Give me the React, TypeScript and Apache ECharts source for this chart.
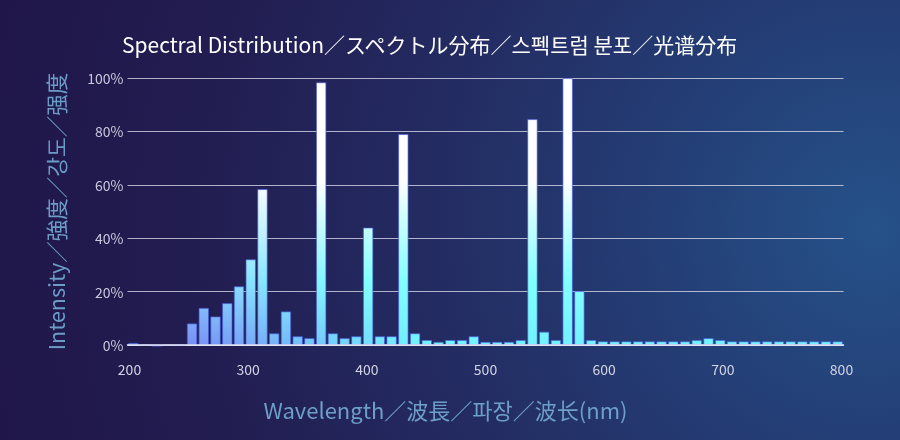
import React, { useEffect, useRef } from "react";
import * as echarts from "echarts";

// Wavelength bins (nm)
const wavelengths = [
  "200", "210", "220", "230", "240", "250", "260", "270", "280", "290",
  "300", "310", "320", "330", "340", "350", "360", "370", "380", "390",
  "400", "410", "420", "430", "440", "450", "460", "470", "480", "490",
  "500", "510", "520", "530", "540", "550", "560", "570", "580", "590",
  "600", "610", "620", "630", "640", "650", "660", "670", "680", "690",
  "700", "710", "720", "730", "740", "750", "760", "770", "780", "790",
  "800",
];

// Relative intensity (%)
const intensity = [
  0.8, 0, -0.6, 0, 0, 8.1, 13.9, 10.7, 15.7, 22.0,
  32.1, 58.4, 4.4, 12.6, 3.3, 2.6, 98.4, 4.4, 2.6, 3.3,
  44.0, 3.3, 3.3, 79.0, 4.4, 1.9, 1.2, 1.9, 1.9, 3.3,
  1.2, 1.2, 1.2, 1.9, 84.6, 5.0, 1.9, 100, 20.2, 1.9,
  1.4, 1.4, 1.4, 1.4, 1.4, 1.4, 1.4, 1.4, 1.9, 2.6,
  1.9, 1.4, 1.4, 1.4, 1.4, 1.4, 1.4, 1.4, 1.4, 1.4,
  1.4,
];

const xLabelMin = 200;
const xLabelMax = 800;
const xLabelStep = 100;
const yMax = 100;
const yStep = 20;

const titleText = "Spectral Distribution／スペクトル分布／스펙트럼 분포／光谱分布";
const xName = "Wavelength／波長／파장／波长(nm)";
const yName = "Intensity／強度／강도／强度";

const FONT = "'Noto Sans CJK JP', 'Noto Sans', sans-serif";

const GRID_TOP = 78;
const GRID_BOTTOM_Y = 345;

function hexToRgb(h: string) {
  const n = parseInt(h.slice(1), 16);
  return [(n >> 16) & 255, (n >> 8) & 255, n & 255];
}
function mix(a: string, b: string, t: number) {
  const A = hexToRgb(a);
  const B = hexToRgb(b);
  const c = A.map((v, i) => Math.round(v + (B[i] - v) * t));
  return `rgb(${c[0]},${c[1]},${c[2]})`;
}

function barColor(wl: number) {
  const t = Math.max(0, Math.min(1, (wl - 250) / (440 - 250)));
  const bottom = mix("#7890f3", "#72f2ff", t);
  const mid = mix("#8cd2ff", "#82ffff", Math.min(1, t * 1.4));
  return {
    type: "linear",
    x: 0,
    y: GRID_TOP,
    x2: 0,
    y2: GRID_BOTTOM_Y,
    global: true,
    colorStops: [
      { offset: 0, color: "#ffffff" },
      { offset: 0.38, color: "#ffffff" },
      { offset: 0.76, color: mid },
      { offset: 1, color: bottom },
    ],
  };
}

export default function App() {
  const ref = useRef<HTMLDivElement>(null);

  useEffect(() => {
    if (!ref.current) return;
    const chart = echarts.init(ref.current, undefined, { renderer: "svg" });

    const seriesData = intensity.map((v, i) => ({
      value: v,
      itemStyle: { color: barColor(Number(wavelengths[i])) as any },
    }));

    chart.setOption({
      animation: false,
      backgroundColor: "transparent",
      textStyle: { fontFamily: FONT },
      title: {
        text: titleText,
        left: 117,
        top: 28,
        textStyle: {
          color: "#ffffff",
          fontSize: 21,
          fontWeight: "normal",
          fontFamily: FONT,
        },
      },
      grid: [
        { left: 127.5, right: 56.5, top: GRID_TOP, bottom: 440 - GRID_BOTTOM_Y },
        { left: 129.5, right: 58.5, top: GRID_TOP, bottom: 440 - GRID_BOTTOM_Y },
      ],
      xAxis: [
        {
          type: "category",
          gridIndex: 0,
          data: wavelengths,
          boundaryGap: true,
          axisLine: { show: true, lineStyle: { color: "#eef0ff", width: 1.5 } },
          axisTick: { show: false },
          axisLabel: { show: false },
          splitLine: { show: false },
          z: 5,
        },
        {
          type: "value",
          gridIndex: 1,
          min: xLabelMin,
          max: xLabelMax,
          interval: xLabelStep,
          axisLine: { show: false },
          axisTick: { show: false },
          splitLine: { show: false },
          axisLabel: {
            color: "#d2d3e4",
            fontSize: 14,
            margin: 17,
            fontFamily: FONT,
          },
          name: xName,
          nameLocation: "middle",
          nameGap: 53,
          nameTextStyle: {
            color: "#6d9fc8",
            fontSize: 22,
            fontFamily: FONT,
            padding: [0, 80, 0, 0],
          },
        },
      ],
      yAxis: [
        {
          type: "value",
          gridIndex: 0,
          min: 0,
          max: yMax,
          interval: yStep,
          axisLine: { show: false },
          axisTick: { show: false },
          axisLabel: {
            formatter: "{value}%",
            color: "#c8c9dd",
            fontSize: 14,
            margin: 4,
            fontFamily: FONT,
          },
          splitLine: {
            show: true,
            lineStyle: { color: "rgba(215,215,232,0.8)", width: 1 },
          },
          name: yName,
          nameLocation: "middle",
          nameGap: 61,
          nameTextStyle: {
            color: "#6a9cc6",
            fontSize: 21.5,
            fontFamily: FONT,
          },
        },
        {
          type: "value",
          gridIndex: 1,
          min: 0,
          max: yMax,
          show: false,
        },
      ],
      series: [
        {
          type: "bar",
          xAxisIndex: 0,
          yAxisIndex: 0,
          data: seriesData,
          barWidth: "89%",
          clip: false,
          itemStyle: {
            borderColor: "rgba(70,90,220,0.65)",
            borderWidth: 1,
          },
        },
      ],
    });

    return () => chart.dispose();
  }, []);

  return (
    <div
      style={{
        position: "fixed",
        left: 0,
        top: 0,
        width: 900,
        height: 440,
        background:
          "radial-gradient(circle at 97% 52%, #265189 0%, #243d75 25%, #232b61 50%, #221d51 75%, #201649 100%)",
      }}
    >
      <div ref={ref} style={{ width: 900, height: 440 }} />
    </div>
  );
}
